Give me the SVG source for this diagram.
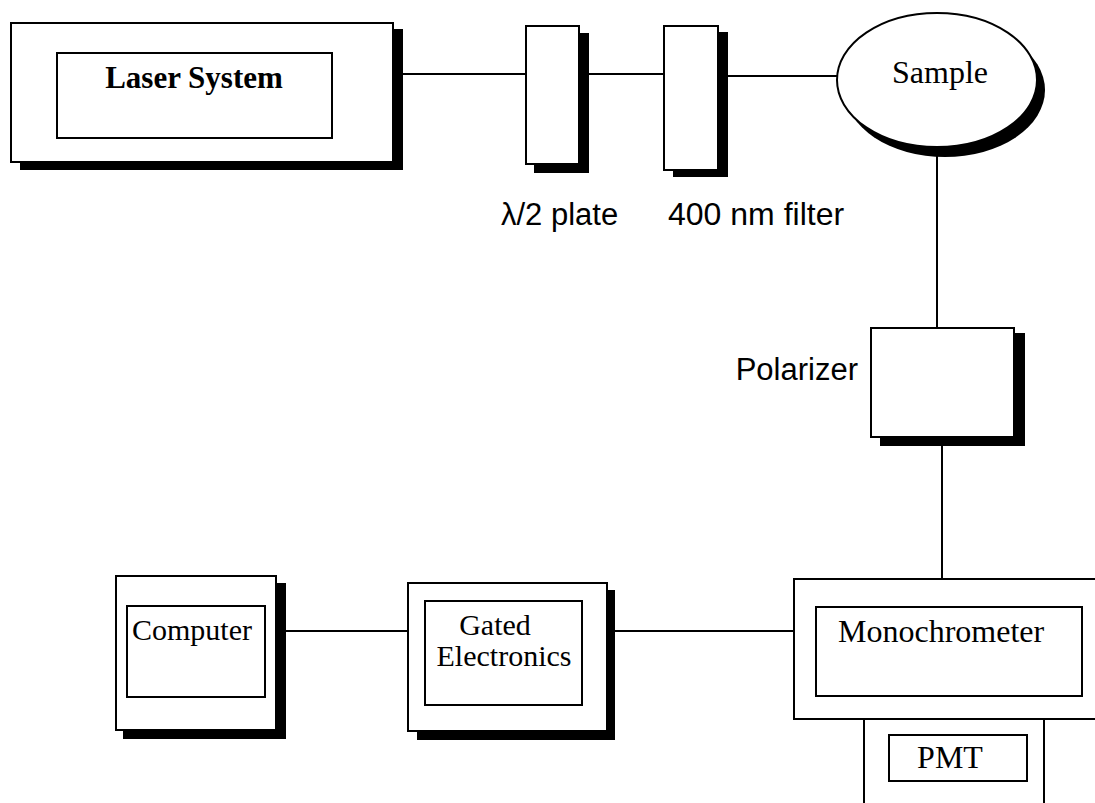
<svg xmlns="http://www.w3.org/2000/svg" width="1095" height="803" viewBox="0 0 1095 803">
<style>
.box{fill:#fff;stroke:#000;stroke-width:2}
.sh{fill:#000}
.ln{stroke:#000;stroke-width:2;fill:none}
.serif{font-family:"Liberation Serif","Times New Roman",serif;fill:#000}
.sans{font-family:"Liberation Sans",Arial,sans-serif;fill:#000}
</style>
<rect width="1095" height="803" fill="#fff"/>
<g id="connectors">
<line class="ln" x1="393" y1="74" x2="526" y2="74"/>
<line class="ln" x1="579" y1="74" x2="664" y2="74"/>
<line class="ln" x1="718" y1="76" x2="837" y2="76"/>
<line class="ln" x1="937" y1="147" x2="937" y2="328"/>
<line class="ln" x1="942" y1="437" x2="942" y2="579"/>
<line class="ln" x1="607" y1="631" x2="794" y2="631"/>
<line class="ln" x1="276" y1="631" x2="408" y2="631"/>
</g>
<g id="laser">
<rect class="sh" x="20" y="29" width="383" height="141"/>
<rect class="box" x="11" y="23" width="382" height="139"/>
<rect class="box" x="57" y="53" width="275" height="85"/>
<text class="serif" x="194" y="88" font-size="31" font-weight="bold" text-anchor="middle">Laser System</text>
</g>
<g id="halfwave">
<rect class="sh" x="534" y="33" width="55" height="140"/>
<rect class="box" x="526" y="26" width="53" height="138"/>
<text class="sans" x="501" y="225" font-size="31">λ/2 plate</text>
</g>
<g id="filter">
<rect class="sh" x="673" y="32" width="55" height="145"/>
<rect class="box" x="664" y="26" width="54" height="144"/>
<text class="sans" x="668" y="225" font-size="32">400 nm filter</text>
</g>
<g id="sample">
<ellipse class="sh" cx="945" cy="90" rx="100" ry="67"/>
<ellipse class="box" cx="937" cy="80" rx="100" ry="67"/>
<text class="serif" x="940" y="83" font-size="32" text-anchor="middle">Sample</text>
</g>
<g id="polarizer">
<rect class="sh" x="880" y="333" width="145" height="113"/>
<rect class="box" x="871" y="328" width="143" height="109"/>
<text class="sans" x="858" y="380" font-size="31" text-anchor="end">Polarizer</text>
</g>
<g id="monochrometer">
<rect class="box" x="794" y="579" width="310" height="140"/>
<rect class="box" x="816" y="607" width="266" height="89"/>
<text class="serif" x="838" y="642" font-size="32">Monochrometer</text>
</g>
<g id="pmt">
<path class="ln" d="M864 719 V810 M1044 719 V810"/>
<rect class="box" x="889" y="735" width="138" height="46"/>
<text class="serif" x="950" y="768" font-size="32" text-anchor="middle">PMT</text>
</g>
<g id="gated">
<rect class="sh" x="417" y="590" width="198" height="150"/>
<rect class="box" x="408" y="583" width="199" height="148"/>
<rect class="box" x="425" y="601" width="157" height="104"/>
<text class="serif" x="495" y="635" font-size="30" text-anchor="middle">Gated</text>
<text class="serif" x="504" y="666" font-size="30" text-anchor="middle">Electronics</text>
</g>
<g id="computer">
<rect class="sh" x="123" y="583" width="163" height="156"/>
<rect class="box" x="116" y="576" width="160" height="154"/>
<rect class="box" x="127" y="606" width="138" height="91"/>
<text class="serif" x="132" y="640" font-size="30">Computer</text>
</g>
</svg>
